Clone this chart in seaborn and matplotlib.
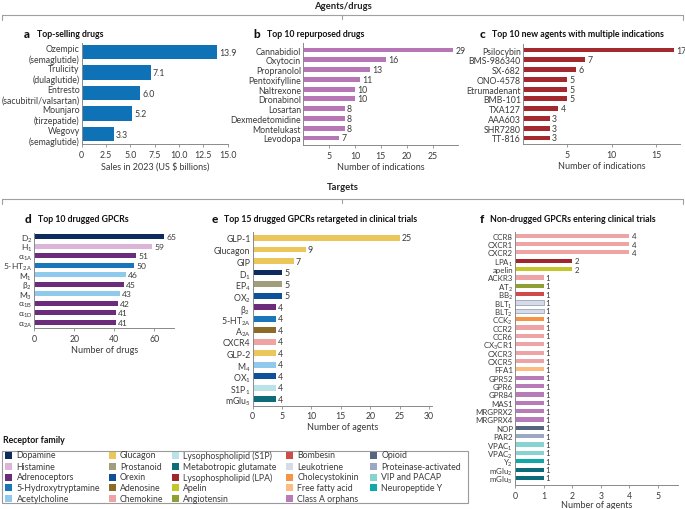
import matplotlib
matplotlib.use('Agg')
import matplotlib.pyplot as plt
import seaborn as sns
from matplotlib.patches import Rectangle

# ---------------- data ----------------
top_selling = ['Ozempic\n(semaglutide)', 'Trulicity\n(dulaglutide)', 'Entresto\n(sacubitril/valsartan)',
               'Mounjaro\n(tirzepatide)', 'Wegovy\n(semaglutide)']
sales_2023 = [13.9, 7.1, 6.0, 5.2, 3.3]

repurposed = ['Cannabidiol', 'Oxytocin', 'Propranolol', 'Pentoxifylline', 'Naltrexone',
              'Dronabinol', 'Losartan', 'Dexmedetomidine', 'Montelukast', 'Levodopa']
repurposed_n = [29, 16, 13, 11, 10, 10, 8, 8, 8, 7]

new_agents = ['Psilocybin', 'BMS-986340', 'SX-682', 'ONO-4578', 'Etrumadenant',
              'BMB-101', 'TXA127', 'AAA603', 'SHR7280', 'TT-816']
new_agents_n = [17, 7, 6, 5, 5, 5, 4, 3, 3, 3]

drugged = ['D$_2$', 'H$_1$', 'α$_{\\mathrm{1A}}$', '5-HT$_{\\mathrm{2A}}$', 'M$_1$', 'β$_2$', 'M$_3$',
           'α$_{\\mathrm{1B}}$', 'α$_{\\mathrm{1D}}$', 'α$_{\\mathrm{2A}}$']
drugged_n = [65, 59, 51, 50, 46, 45, 43, 42, 41, 41]
drugged_fam = ['Dopamine', 'Histamine', 'Adrenoceptors', '5-Hydroxytryptamine', 'Acetylcholine',
               'Adrenoceptors', 'Acetylcholine', 'Adrenoceptors', 'Adrenoceptors', 'Adrenoceptors']

retargeted = ['GLP-1', 'Glucagon', 'GIP', 'D$_1$', 'EP$_4$', 'OX$_2$', 'β$_2$', '5-HT$_{\\mathrm{2A}}$',
              'A$_{\\mathrm{2A}}$', 'CXCR4', 'GLP-2', 'M$_4$', 'OX$_1$', 'S1P$_1$', 'mGlu$_5$']
retargeted_n = [25, 9, 7, 5, 5, 5, 4, 4, 4, 4, 4, 4, 4, 4, 4]
retargeted_fam = ['Glucagon', 'Glucagon', 'Glucagon', 'Dopamine', 'Prostanoid', 'Orexin', 'Adrenoceptors',
                  '5-Hydroxytryptamine', 'Adenosine', 'Chemokine', 'Glucagon', 'Acetylcholine', 'Orexin',
                  'Lysophospholipid (S1P)', 'Metabotropic glutamate']

non_drugged = ['CCR8', 'CXCR1', 'CXCR2', 'LPA$_1$', 'apelin', 'ACKR3', 'AT$_2$', 'BB$_2$', 'BLT$_1$', 'BLT$_2$',
               'CCK$_2$', 'CCR2', 'CCR6', 'CX$_3$CR1', 'CXCR3', 'CXCR5', 'FFA1', 'GPR52', 'GPR6', 'GPR84',
               'MAS1', 'MRGPRX2', 'MRGPRX4', 'NOP', 'PAR2', 'VPAC$_1$', 'VPAC$_2$', 'Y$_2$', 'mGlu$_2$', 'mGlu$_3$']
non_drugged_n = [4, 4, 4, 2, 2, 1, 1, 1, 1, 1, 1, 1, 1, 1, 1, 1, 1, 1, 1, 1, 1, 1, 1, 1, 1, 1, 1, 1, 1, 1]
non_drugged_fam = ['Chemokine', 'Chemokine', 'Chemokine', 'Lysophospholipid (LPA)', 'Apelin', 'Chemokine',
                   'Angiotensin', 'Bombesin', 'Leukotriene', 'Leukotriene', 'Cholecystokinin', 'Chemokine',
                   'Chemokine', 'Chemokine', 'Chemokine', 'Chemokine', 'Free fatty acid', 'Class A orphans',
                   'Class A orphans', 'Class A orphans', 'Class A orphans', 'Class A orphans', 'Class A orphans',
                   'Opioid', 'Proteinase-activated', 'VIP and PACAP', 'VIP and PACAP', 'Neuropeptide Y',
                   'Metabotropic glutamate', 'Metabotropic glutamate']

families = ['Dopamine', 'Histamine', 'Adrenoceptors', '5-Hydroxytryptamine', 'Acetylcholine',
            'Glucagon', 'Prostanoid', 'Orexin', 'Adenosine', 'Chemokine',
            'Lysophospholipid (S1P)', 'Metabotropic glutamate', 'Lysophospholipid (LPA)', 'Apelin', 'Angiotensin',
            'Bombesin', 'Leukotriene', 'Cholecystokinin', 'Free fatty acid', 'Class A orphans',
            'Opioid', 'Proteinase-activated', 'VIP and PACAP', 'Neuropeptide Y']
family_colors = ['#0d2b5e', '#dcb4d8', '#6c2c7c', '#1876b9', '#8fc9ec',
                 '#ebc65a', '#a19e7e', '#0f5198', '#8c6a27', '#eea4a4',
                 '#b9e3e9', '#0c6c77', '#a1262c', '#c3c72b', '#8e9f34',
                 '#cf4b4b', '#d5dce7', '#f69446', '#fcbb80', '#b77bb8',
                 '#58657f', '#9ba7c3', '#87d3cf', '#10a9a9']
fam_color = dict(zip(families, family_colors))

# ---------------- style ----------------
sns.set_style('ticks')
plt.rcParams['font.family'] = ['Lato', 'DejaVu Sans']
plt.rcParams['mathtext.fontset'] = 'custom'
plt.rcParams['mathtext.rm'] = 'Lato'
plt.rcParams['mathtext.it'] = 'Lato:italic'
plt.rcParams['mathtext.bf'] = 'Lato:bold'
TXT = '#3a3a3a'
AX = '#8a8a8a'

W, H = 685, 510
fig = plt.figure(figsize=(W / 100, H / 100), dpi=100)

# overlay in pixel coordinates for headers / legend
ov = fig.add_axes([0, 0, 1, 1])
ov.set_xlim(0, W)
ov.set_ylim(H, 0)
ov.axis('off')


def px_axes(x0, y0, x1, y1):
    return fig.add_axes([x0 / W, 1 - y1 / H, (x1 - x0) / W, (y1 - y0) / H])


def hbar(box, labels, values, colors, xlim, ylim, xticks, xlabel, width, fmt,
         xticklabels=None, ysize=6.3, labelpad=1.5):
    ax = px_axes(*box)
    sns.barplot(x=values, y=labels, hue=labels, palette=dict(zip(labels, colors)), legend=False,
                saturation=1, width=width, linewidth=0, orient='h', ax=ax)
    ax.set_xlim(*xlim)
    ax.set_ylim(*ylim)
    ax.set_xticks(xticks)
    if xticklabels is not None:
        ax.set_xticklabels(xticklabels)
    ax.set_ylabel('')
    ax.set_xlabel(xlabel, fontsize=6.5, color=TXT, labelpad=labelpad)
    ax.tick_params(axis='y', length=0, pad=1.5, labelsize=ysize, labelcolor=TXT)
    ax.tick_params(axis='x', length=2.5, width=0.6, color=AX, pad=1.5, labelsize=6.3, labelcolor=TXT)
    sns.despine(ax=ax)
    for s in ['left', 'bottom']:
        ax.spines[s].set_color(AX)
        ax.spines[s].set_linewidth(0.7)
    for c in ax.containers:
        ax.bar_label(c, fmt=fmt, padding=1.5, fontsize=ysize, color=TXT)
    return ax


# a
hbar((81.7, 43.8, 227.7, 145.3), top_selling, sales_2023, ['#1072b6'] * 5, (0, 15), (4.5, -0.45),
     [0, 2.5, 5, 7.5, 10, 12.5, 15], 'Sales in 2023 (US $ billions)', 0.72, '%.1f',
     ['0', '2.5', '5.0', '7.5', '10.0', '12.5', '15.0'])
# b
hbar((303.1, 44, 458.5, 146), repurposed, repurposed_n, ['#b777b7'] * 10, (0, 30), (9.72, -0.72),
     [5, 10, 15, 20, 25], 'Number of indications', 0.5, '%g')
# c
hbar((523, 45, 680, 145), new_agents, new_agents_n, ['#a4292e'] * 10, (0, 17.7), (9.62, -0.62),
     [5, 10, 15], 'Number of indications', 0.5, '%g')
# d
hbar((34.3, 234, 174.3, 329.3), drugged, drugged_n, [fam_color[f] for f in drugged_fam], (0, 70),
     (9.63, -0.39), [0, 20, 40, 60], 'Number of drugs', 0.55, '%g', ysize=6.1)
# e
hbar((252.7, 233, 431.9, 406.7), retargeted, retargeted_n, [fam_color[f] for f in retargeted_fam],
     (0, 30.5), (14.55, -0.52), [0, 5, 10, 15, 20, 25, 30], 'Number of agents', 0.5, '%g')
# f
axf = hbar((515, 233, 678, 486), non_drugged, non_drugged_n, [fam_color[f] for f in non_drugged_fam],
           (0, 5.7), (29.84, -0.44), [0, 1, 2, 3, 4, 5], 'Number of agents', 0.5, '%g',
           ysize=5.7, labelpad=0)
for p in axf.patches:
    if matplotlib.colors.to_hex(p.get_facecolor()) == fam_color['Leukotriene']:
        p.set_edgecolor('#98a4b8')
        p.set_linewidth(0.6)

# ---------------- headers ----------------
LINE = '#a0a0a0'
for text, ty, ly in [('Agents/drugs', 6.3, 15.7), ('Targets', 188, 199.5)]:
    ov.text(342.5, ty, text, ha='center', va='center', fontsize=6.8, fontweight='bold', color='#222')
    ov.plot([2, 683], [ly, ly], color=LINE, lw=0.8)
    ov.plot([2, 2], [ly, ly + 5.5], color=LINE, lw=0.8)
    ov.plot([683, 683], [ly, ly + 5.5], color=LINE, lw=0.8)
    ov.plot([342.5, 342.5], [ly, ly + 4.5], color=LINE, lw=0.8)

panel_titles = [('a', 24.3, 36.7, 34.3, 'Top-selling drugs'),
                ('b', 253.3, 266.7, 34.3, 'Top 10 repurposed drugs'),
                ('c', 480, 491.7, 34.5, 'Top 10 new agents with multiple indications'),
                ('d', 25, 37.7, 220, 'Top 10 drugged GPCRs'),
                ('e', 212, 224, 220, 'Top 15 drugged GPCRs retargeted in clinical trials'),
                ('f', 480, 490, 220, 'Non-drugged GPCRs entering clinical trials')]
for letter, lx, tx, y, title in panel_titles:
    ov.text(lx, y, letter, ha='left', va='center', fontsize=8.5, fontweight='black', color='#111')
    ov.text(tx, y, title, ha='left', va='center', fontsize=6.3, fontweight='bold', color='#111')

# ---------------- legend ----------------
ov.text(3.3, 440.7, 'Receptor family', ha='left', va='center', fontsize=6.3, fontweight='bold', color='#111')
ov.add_patch(Rectangle((2, 451.7), 465.7, 52.6, fill=False, ec='#9a9a9a', lw=0.8))
col_x = [9, 112.3, 175.7, 290, 374]
row_y = [456, 467.3, 478, 488.7, 499.3]
for i, (name, col) in enumerate(zip(families, family_colors)):
    cx, ry = col_x[i // 5], row_y[i % 5]
    ov.add_patch(Rectangle((cx - 3.5, ry - 3.5), 7, 7, color=col, lw=0))
    ov.text(cx + 7.5, ry, name, ha='left', va='center', fontsize=6.3, color=TXT)

fig.savefig('out.png', dpi=100)
